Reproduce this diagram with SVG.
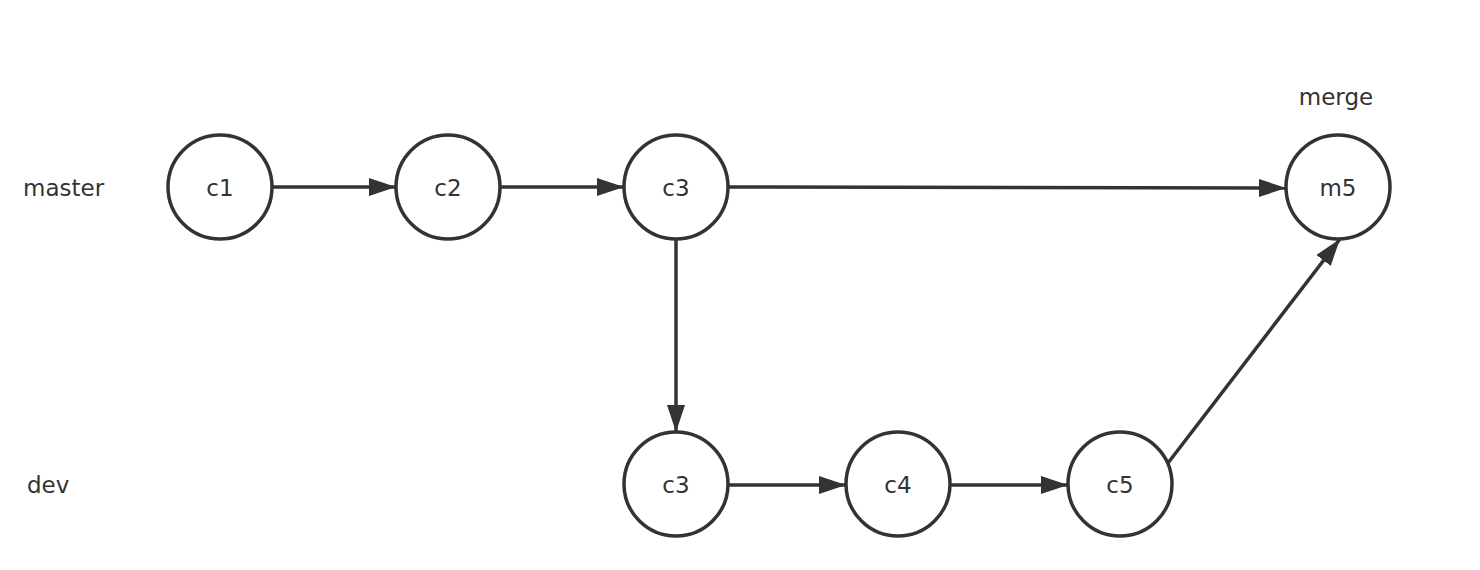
<svg xmlns="http://www.w3.org/2000/svg" width="1480" height="570" viewBox="0 0 1480 570">
<style>
.node circle{fill:#fff;stroke:#333;stroke-width:3.5}
text{font-family:"DejaVu Sans","Liberation Sans",sans-serif;font-size:23px;fill:#333}
.nt{text-anchor:middle}
#connectors line{stroke:#333;stroke-width:3.5;fill:none}
</style>
<defs>
<marker id="arr" markerUnits="userSpaceOnUse" markerWidth="28" markerHeight="20" refX="27" refY="9" orient="auto">
<path d="M0,0 L27,9 L0,18 Z" fill="#333"/>
</marker>
</defs>
<rect width="1480" height="570" fill="#fff"/>
<g id="labels">
<text x="23" y="196">master</text>
<text x="27" y="493">dev</text>
<text x="1336" y="105" class="nt">merge</text>
</g>
<g id="connectors">
<line x1="273" y1="187" x2="396" y2="187" marker-end="url(#arr)"/>
<line x1="501" y1="187" x2="624" y2="187" marker-end="url(#arr)"/>
<line x1="729" y1="187" x2="1286" y2="188" marker-end="url(#arr)"/>
<line x1="676" y1="240" x2="676" y2="432" marker-end="url(#arr)"/>
<line x1="729" y1="485" x2="846" y2="485" marker-end="url(#arr)"/>
<line x1="951" y1="485" x2="1068" y2="485" marker-end="url(#arr)"/>
<line x1="1168" y1="463" x2="1340" y2="239" marker-end="url(#arr)"/>
</g>
<g id="c1" class="node"><circle cx="220" cy="187" r="52"/><text x="220" y="196" class="nt">c1</text></g>
<g id="c2" class="node"><circle cx="448" cy="187" r="52"/><text x="448" y="196" class="nt">c2</text></g>
<g id="c3" class="node"><circle cx="676" cy="187" r="52"/><text x="676" y="196" class="nt">c3</text></g>
<g id="m5" class="node"><circle cx="1338" cy="187" r="52"/><text x="1338" y="196" class="nt">m5</text></g>
<g id="c3dev" class="node"><circle cx="676" cy="484" r="52"/><text x="676" y="493" class="nt">c3</text></g>
<g id="c4" class="node"><circle cx="898" cy="484" r="52"/><text x="898" y="493" class="nt">c4</text></g>
<g id="c5" class="node"><circle cx="1120" cy="484" r="52"/><text x="1120" y="493" class="nt">c5</text></g>
</svg>
